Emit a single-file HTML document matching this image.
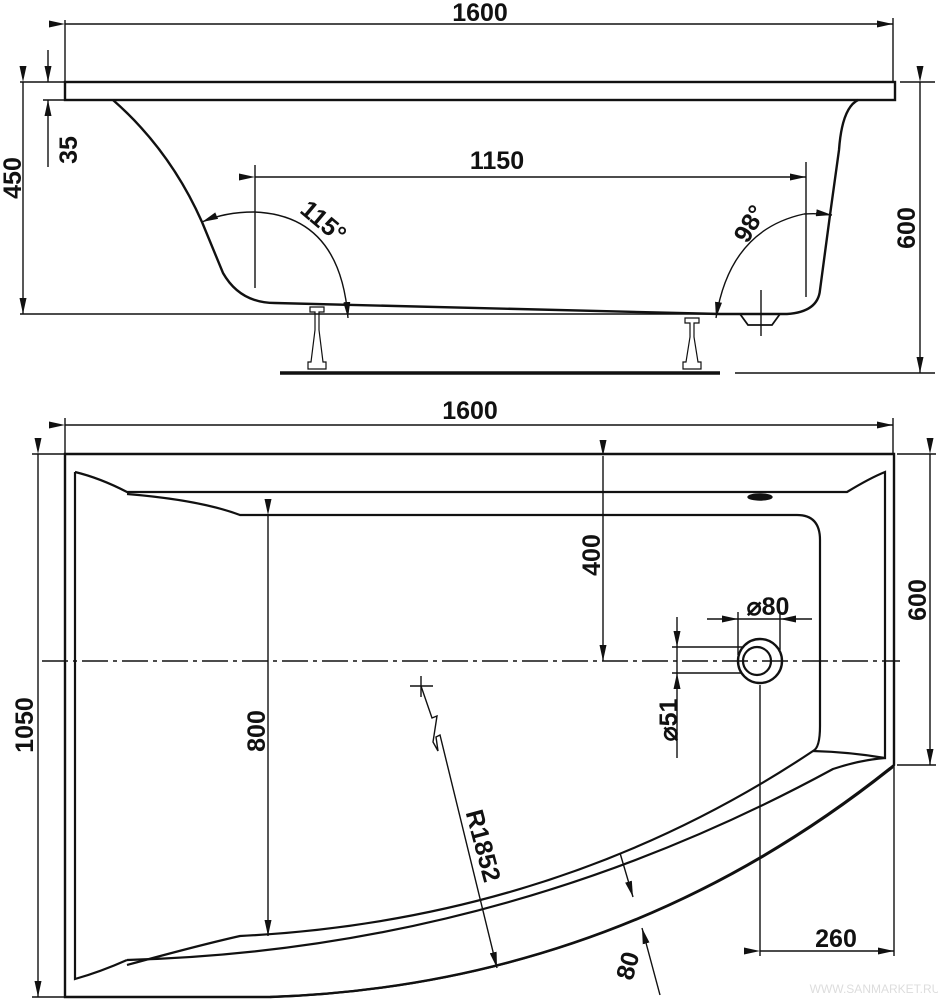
<!DOCTYPE html>
<html><head><meta charset="utf-8"><style>
html,body{margin:0;padding:0;background:#fff;}
svg{display:block;}
text{font-family:"Liberation Sans",Arial,sans-serif;font-weight:bold;fill:#111;}
</style></head><body>
<svg width="938" height="1000" viewBox="0 0 938 1000" xmlns="http://www.w3.org/2000/svg">
<defs>
<marker id="a" viewBox="0 0 16 7" refX="16" refY="3.5" markerWidth="16" markerHeight="7" markerUnits="userSpaceOnUse" orient="auto"><path d="M0,0 L16,3.5 L0,7 Z" fill="#111"/></marker>
</defs>
<g stroke="#111" fill="none" stroke-width="1.4">
<line x1="65" y1="20" x2="65" y2="100"/>
<line x1="893" y1="18" x2="893" y2="82"/>
<line x1="65" y1="24" x2="893" y2="24" marker-start="url(#a)" marker-end="url(#a)"/>
<rect x="65" y="82" width="830" height="18" stroke-width="2.4"/>
<line x1="20" y1="82" x2="65" y2="82"/>
<line x1="43" y1="100" x2="65" y2="100"/>
<line x1="23" y1="82" x2="23" y2="314" marker-start="url(#a)" marker-end="url(#a)"/>
<line x1="48" y1="50" x2="48" y2="82" marker-end="url(#a)"/>
<line x1="48" y1="167" x2="48" y2="100" marker-end="url(#a)"/>
<line x1="20" y1="314" x2="712" y2="314"/>
<line x1="900" y1="82" x2="935" y2="82"/>
<line x1="735" y1="373" x2="935" y2="373"/>
<line x1="920" y1="82" x2="920" y2="373" marker-start="url(#a)" marker-end="url(#a)"/>
<path d="M113 100 Q170 150 202 222 L223 273 Q240 303 275 303 L720 314 L787 314 Q818 312 820 290 L830 215 L839 150 Q842 108 858 100" stroke-width="2.4"/>
<path d="M740 314 L748 325 L772 325 L780 314" stroke-width="1.8"/>
<line x1="761" y1="290" x2="761" y2="336"/>
<line x1="255" y1="165" x2="255" y2="288"/>
<line x1="806" y1="162" x2="806" y2="297"/>
<line x1="255" y1="177" x2="806" y2="177" marker-start="url(#a)" marker-end="url(#a)"/>
<path d="M254 212 Q340 215 348 318" marker-end="url(#a)"/>
<path d="M254 212 Q225 212 202 222" marker-end="url(#a)"/>
<path d="M804 214 Q730 230 716 318" marker-end="url(#a)"/>
<path d="M804 214 Q818 213 832 215" marker-end="url(#a)"/>
<g stroke-width="1.2">
<path d="M310 307 h14 v5 h-5 v18 l4 32 h3 v7 h-18 v-7 h3 l4 -32 v-18 h-5 z"/>
<path d="M685 318 h14 v5 h-5 v14 l4 25 h3 v7 h-18 v-7 h3 l4 -25 v-14 h-5 z"/>
</g>
<line x1="280" y1="373" x2="720" y2="373" stroke-width="3.4"/>

<line x1="65" y1="418" x2="65" y2="454"/>
<line x1="893" y1="418" x2="893" y2="454"/>
<line x1="65" y1="425" x2="893" y2="425" marker-start="url(#a)" marker-end="url(#a)"/>
<line x1="32" y1="454" x2="65" y2="454"/>
<line x1="32" y1="997" x2="65" y2="997"/>
<line x1="38" y1="454" x2="38" y2="997" marker-start="url(#a)" marker-end="url(#a)"/>
<path d="M65 454 L894 454 L894 765 Q620 985 270 997 L65 997 Z" stroke-width="2.4"/>
<path d="M75 472 Q100 478 127 492 L847 492 Q870 478 885 472 L885 758 Q850 752 813 751" stroke-width="2.2"/>
<path d="M75 472 L75 979 Q100 972 127 960" stroke-width="2.2"/>
<path d="M127 960 Q500 950 833 769 Q860 760 885 758" stroke-width="2.2"/>
<path d="M127 494 Q200 500 240 515 L797 515 Q820 515 820 540 L820 726 Q820 748 813 751 Q560 920 240 936 Q200 945 127 965" stroke-width="2.2"/>
<path d="M270 997 Q620 985 893 767" stroke-width="2.2"/>
<ellipse cx="760" cy="497" rx="12" ry="3" fill="#111"/>
<line x1="42" y1="661" x2="900" y2="661" stroke-dasharray="26,5,4,5"/>
<line x1="603" y1="456" x2="603" y2="661" marker-start="url(#a)" marker-end="url(#a)"/>
<line x1="268" y1="515" x2="268" y2="936" marker-start="url(#a)" marker-end="url(#a)"/>
<line x1="897" y1="454" x2="936" y2="454"/>
<line x1="897" y1="765" x2="936" y2="765"/>
<line x1="930" y1="454" x2="930" y2="765" marker-start="url(#a)" marker-end="url(#a)"/>
<line x1="760" y1="685" x2="760" y2="956"/>
<line x1="894" y1="765" x2="894" y2="956"/>
<line x1="760" y1="951" x2="894" y2="951" marker-start="url(#a)" marker-end="url(#a)"/>
<circle cx="760" cy="661" r="22" stroke-width="2.4"/>
<circle cx="757" cy="661" r="14" stroke-width="2.2"/>
<line x1="738" y1="612" x2="738" y2="655"/>
<line x1="780" y1="612" x2="780" y2="650"/>
<line x1="707" y1="619" x2="738" y2="619" marker-end="url(#a)"/>
<line x1="812" y1="619" x2="780" y2="619" marker-end="url(#a)"/>
<line x1="738" y1="619" x2="780" y2="619"/>
<line x1="672" y1="647" x2="742" y2="647"/>
<line x1="672" y1="673" x2="742" y2="673"/>
<line x1="677" y1="617" x2="677" y2="647" marker-end="url(#a)"/>
<line x1="677" y1="758" x2="677" y2="673" marker-end="url(#a)"/>
<line x1="677" y1="647" x2="677" y2="673"/>
<line x1="410" y1="686" x2="433" y2="686"/>
<line x1="421" y1="676" x2="421" y2="697"/>
<path d="M421 686 L432 718 L437 716 L433 742 L438 751 L436 737 L440 735 L497 968" marker-end="url(#a)"/>
<line x1="620" y1="853" x2="633" y2="897" marker-end="url(#a)"/>
<line x1="660" y1="995" x2="642" y2="928" marker-end="url(#a)"/>
</g>
<text x="480" y="21" font-size="25" text-anchor="middle">1600</text>
<text x="497" y="169" font-size="25" text-anchor="middle">1150</text>
<text x="0" y="0" font-size="25" text-anchor="middle" transform="translate(21,178) rotate(-90)">450</text>
<text x="0" y="0" font-size="25" text-anchor="middle" transform="translate(77,150) rotate(-90)">35</text>
<text x="0" y="0" font-size="25" text-anchor="middle" transform="translate(915,228) rotate(-90)">600</text>
<text x="0" y="0" font-size="25" text-anchor="middle" transform="translate(318,228) rotate(40)">115°</text>
<text x="0" y="0" font-size="25" text-anchor="middle" transform="translate(757,228) rotate(-60)">98°</text>
<text x="470" y="419" font-size="25" text-anchor="middle">1600</text>
<text x="0" y="0" font-size="25" text-anchor="middle" transform="translate(33,725) rotate(-90)">1050</text>
<text x="0" y="0" font-size="25" text-anchor="middle" transform="translate(600,555) rotate(-90)">400</text>
<text x="0" y="0" font-size="25" text-anchor="middle" transform="translate(265,731) rotate(-90)">800</text>
<text x="0" y="0" font-size="25" text-anchor="middle" transform="translate(926,600) rotate(-90)">600</text>
<text x="836" y="947" font-size="25" text-anchor="middle">260</text>
<text x="768" y="615" font-size="25" text-anchor="middle">⌀80</text>
<text x="0" y="0" font-size="25" text-anchor="middle" transform="translate(677,720) rotate(-90)">⌀51</text>
<text x="0" y="0" font-size="25" text-anchor="middle" transform="translate(475,848) rotate(75)">R1852</text>
<text x="0" y="0" font-size="25" text-anchor="middle" transform="translate(636,968) rotate(-75)">80</text>
<text x="875" y="993" font-size="12" text-anchor="middle" style="fill:#ddd;font-weight:normal">WWW.SANMARKET.RU</text>
</svg>
</body></html>
